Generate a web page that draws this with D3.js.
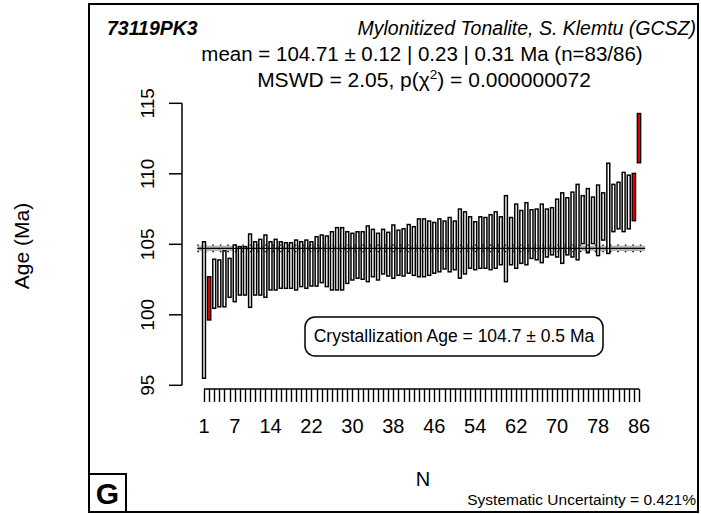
<!DOCTYPE html>
<html>
<head>
<meta charset="utf-8">
<script src="https://cdn.jsdelivr.net/npm/d3@7"></script>
<style>
  body { margin: 0; background: #fff; }
  text { font-family: "Liberation Sans", Arial, sans-serif; fill: #000; }
</style>
</head>
<body>
<script>
// upper and lower ends of each grain's age bar (Ma), grains sorted by age
var ageHi = [105.18, 102.7, 103.94, 103.89, 104.53, 104.0, 104.95, 104.83, 104.83, 105.73,
             105.18, 105.35, 105.66, 105.18, 105.35, 105.18, 105.11, 105.11, 105.3, 105.18,
             105.3, 105.18, 105.54, 105.66, 105.59, 105.89, 106.18, 106.18, 105.89, 105.78,
             105.89, 105.89, 106.3, 106.06, 105.78, 106.06, 105.85, 106.37, 106.0, 106.1,
             106.4, 106.25, 106.8, 106.8, 106.65, 106.55, 106.8, 106.65, 106.9, 106.65,
             107.5, 107.3, 106.95, 106.6, 106.95, 106.9, 107.1, 107.3, 106.95, 108.45,
             106.9, 107.85, 107.4, 107.95, 107.45, 107.5, 107.85, 107.5, 107.6, 108.2,
             108.65, 108.3, 108.7, 109.25, 108.45, 108.95, 108.35, 109.2, 108.65, 110.75,
             109.25, 109.4, 110.1, 109.9, 110.03, 114.28];
var ageLo = [95.5, 99.63, 100.46, 100.57, 100.57, 101.24, 100.93, 101.4, 101.4, 100.53,
             101.4, 101.4, 101.24, 101.76, 101.76, 101.88, 101.88, 101.88, 101.76, 102.0,
             101.88, 102.04, 102.04, 102.28, 102.0, 101.76, 101.76, 101.76, 102.23, 102.47,
             102.59, 102.52, 102.35, 102.7, 102.47, 102.9, 102.75, 102.59, 102.8, 102.75,
             102.95, 102.8, 102.7, 102.7, 102.8, 102.95, 103.05, 103.25, 103.05, 103.2,
             102.6, 102.9, 103.3, 103.2, 103.3, 103.3, 103.2, 103.3, 103.55, 102.35,
             103.55, 103.3, 103.65, 103.55, 104.0, 103.9, 103.7, 104.1, 104.25, 104.1,
             103.65, 104.25, 104.1, 103.9, 105.05, 104.4, 105.05, 104.2, 105.3, 104.35,
             105.9, 106.1, 105.9, 106.1, 106.67, 110.78];
var rejected = [2, 85, 86];

var meanAge = 104.71;
var meanErr = [0.12, 0.23, 0.31];

var xTicks = [1, 7, 14, 22, 30, 38, 46, 54, 62, 70, 78, 86];
var yTicks = [95, 100, 105, 110, 115];

var W = 701, H = 514;

var svg = d3.select("body").append("svg")
    .attr("width", W)
    .attr("height", H);

var x = d3.scaleLinear().domain([1, 86]).range([204, 639]);
var y = d3.scaleLinear().domain([95, 115]).range([385.3, 103.3]);

var grains = ageHi.map(function(h, i) {
    return { n: i + 1, hi: h, lo: ageLo[i], bad: rejected.indexOf(i + 1) >= 0 };
});

// outer frame
svg.append("rect")
    .attr("x", 89).attr("y", 4)
    .attr("width", 609).attr("height", 508)
    .attr("fill", "none").attr("stroke", "#000").attr("stroke-width", 2);

// mean with uncertainty band (under the bars)
var xm0 = x(-0.3), xm1 = x(87.2);
svg.append("rect")
    .attr("x", xm0).attr("width", xm1 - xm0)
    .attr("y", y(meanAge + meanErr[0]) - 1)
    .attr("height", y(meanAge - meanErr[0]) - y(meanAge + meanErr[0]) + 2)
    .attr("fill", "#b4b4b4");

// bars
svg.append("g").selectAll("rect")
    .data(grains)
    .join("rect")
    .attr("x", function(d) { return x(d.n) - (d.bad ? 1.7 : 1.45); })
    .attr("width", function(d) { return d.bad ? 3.4 : 2.9; })
    .attr("y", function(d) { return y(d.hi); })
    .attr("height", function(d) { return y(d.lo) - y(d.hi); })
    .attr("fill", function(d) { return d.bad ? "#e00000" : "#fff"; })
    .attr("stroke", "#000")
    .attr("stroke-width", function(d) { return d.bad ? 1.3 : 1.5; });

[meanAge - meanErr[1], meanAge + meanErr[1]].forEach(function(v) {
    svg.append("line")
        .attr("x1", xm0).attr("x2", xm1)
        .attr("y1", y(v)).attr("y2", y(v))
        .attr("stroke", "#000").attr("stroke-width", 1.3)
        .attr("stroke-dasharray", "1.5,6");
});
svg.append("line")
    .attr("x1", xm0).attr("x2", xm1)
    .attr("y1", y(meanAge)).attr("y2", y(meanAge))
    .attr("stroke", "#000").attr("stroke-width", 1.4);

// y axis
var yAxis = svg.append("g")
    .attr("transform", "translate(182,0)")
    .call(d3.axisLeft(y).tickValues(yTicks).tickSize(13).tickSizeOuter(0));
yAxis.selectAll(".tick").attr("transform", null);
yAxis.selectAll(".tick line")
    .attr("y1", function(d) { return y(d); })
    .attr("y2", function(d) { return y(d); })
    .attr("stroke-width", 1.5);
yAxis.select(".domain").attr("d", "M0," + y(95) + "V" + y(115)).attr("stroke-width", 1.5);
yAxis.selectAll(".tick text")
    .attr("font-size", 19)
    .attr("x", -28).attr("dy", 0)
    .attr("y", function(d) { return y(d); })
    .attr("text-anchor", "middle")
    .attr("transform", function(d) { return "rotate(-90," + (-28) + "," + y(d) + ")"; });

// x axis: one tick per grain, labelled at selected grains
var xAxis = svg.append("g")
    .attr("transform", "translate(0,389)");
xAxis.append("line")
    .attr("x1", x(1)).attr("x2", x(86))
    .attr("stroke", "#000").attr("stroke-width", 1.4);
xAxis.selectAll("line.tk")
    .data(grains)
    .join("line")
    .attr("class", "tk")
    .attr("x1", function(d) { return Math.round(x(d.n)) + 0.5; })
    .attr("x2", function(d) { return Math.round(x(d.n)) + 0.5; })
    .attr("y1", 0).attr("y2", 13)
    .attr("stroke", "#000").attr("stroke-width", 1.4);
xAxis.selectAll("text")
    .data(xTicks)
    .join("text")
    .attr("x", function(d) { return x(d); })
    .attr("y", 44)
    .attr("text-anchor", "middle")
    .attr("font-size", 20)
    .text(function(d) { return d; });

// titles
svg.append("text").attr("x", 107).attr("y", 35)
    .attr("font-size", 19.5).attr("font-weight", "bold").attr("font-style", "italic")
    .text("73119PK3");
svg.append("text").attr("x", 696).attr("y", 35)
    .attr("font-size", 19.5).attr("font-style", "italic").attr("text-anchor", "end")
    .text("Mylonitized Tonalite, S. Klemtu (GCSZ)");
svg.append("text").attr("x", 422).attr("y", 61)
    .attr("font-size", 20.5).attr("text-anchor", "middle")
    .text("mean = 104.71 \u00b1 0.12 | 0.23 | 0.31 Ma (n=83/86)");
var t2 = svg.append("text").attr("x", 424).attr("y", 87)
    .attr("font-size", 21).attr("text-anchor", "middle");
t2.append("tspan").text("MSWD = 2.05, p(\u03c7");
t2.append("tspan").attr("dy", -8).attr("font-size", 13.5).text("2");
t2.append("tspan").attr("dy", 8).text(") = 0.000000072");

// axis titles
svg.append("text")
    .attr("transform", "translate(29,246) rotate(-90)")
    .attr("text-anchor", "middle").attr("font-size", 21)
    .text("Age (Ma)");
svg.append("text").attr("x", 423).attr("y", 486)
    .attr("text-anchor", "middle").attr("font-size", 20)
    .text("N");
svg.append("text").attr("x", 696).attr("y", 505)
    .attr("text-anchor", "end").attr("font-size", 15.5)
    .text("Systematic Uncertainty = 0.421%");

// crystallization age label
svg.append("rect")
    .attr("x", 305).attr("y", 317)
    .attr("width", 298).attr("height", 39)
    .attr("rx", 10).attr("ry", 10)
    .attr("fill", "#fff").attr("stroke", "#000").attr("stroke-width", 1.5);
svg.append("text").attr("x", 454).attr("y", 342)
    .attr("text-anchor", "middle").attr("font-size", 17.5)
    .text("Crystallization Age = 104.7 \u00b1 0.5 Ma");

// panel letter
svg.append("rect")
    .attr("x", 89).attr("y", 474)
    .attr("width", 37).attr("height", 38)
    .attr("fill", "#fff").attr("stroke", "#000").attr("stroke-width", 2);
svg.append("text").attr("x", 107.5).attr("y", 504)
    .attr("text-anchor", "middle").attr("font-size", 30).attr("font-weight", "bold")
    .text("G");
</script>
</body>
</html>
